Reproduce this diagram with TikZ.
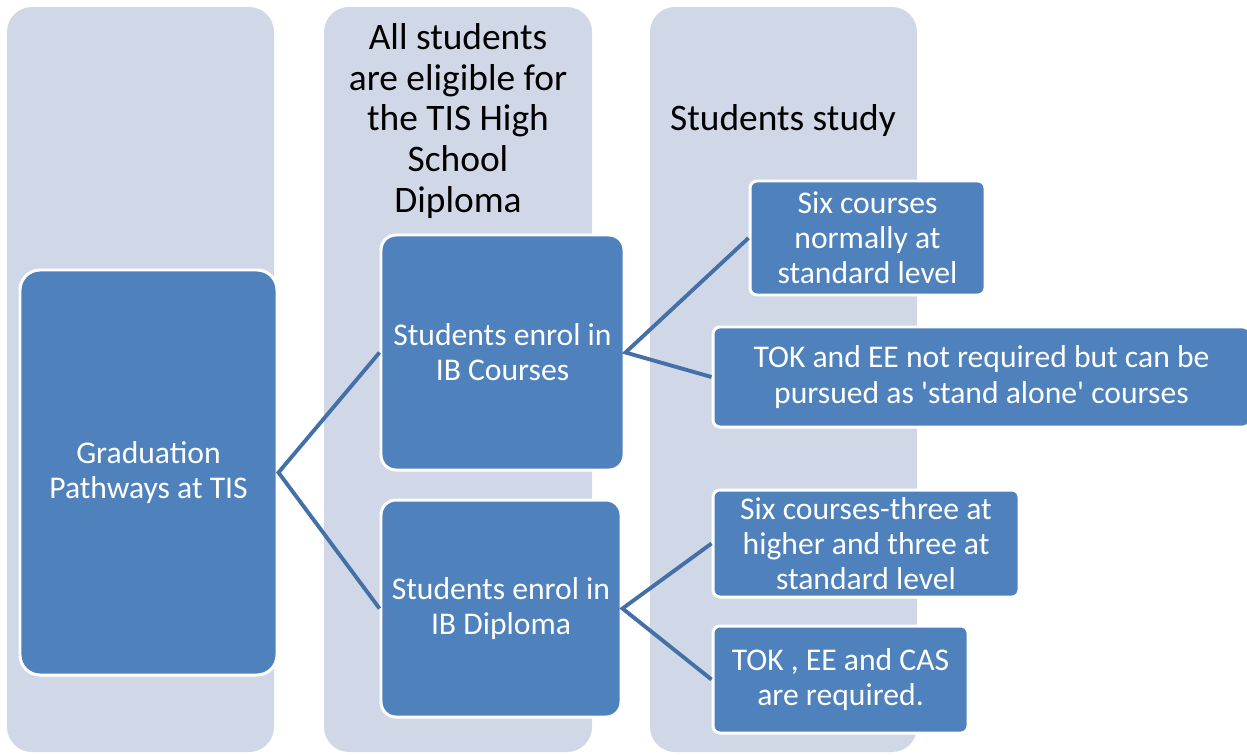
\documentclass[tikz,border=0pt]{standalone}
\usepackage{fontspec}
\setmainfont{Carlito}
\usetikzlibrary{fit}
\definecolor{colbg}{HTML}{D0D8E8}
\definecolor{boxblue}{HTML}{4F81BD}
\definecolor{linkblue}{HTML}{4470A8}

\begin{document}
\begin{tikzpicture}[x=0.02cm, y=-0.02cm,
    column/.style={fill=colbg, rounded corners=0.5cm, inner sep=0pt},
    header/.style={align=center, text=black, font=\fontsize{21.3}{23.3}\selectfont},
    pathbox/.style={fill=boxblue, draw=white, line width=1.7pt, rounded corners=0.3cm, inner sep=0pt},
    boxtext/.style={text=white, align=center, font=\fontsize{18}{20}\selectfont},
    smallbox/.style={pathbox, rounded corners=0.14cm},
    link/.style={draw=linkblue, line width=2.2pt}]
    \fill [white] (0,0) rectangle (1247,754);
    \useasboundingbox (0,0) rectangle (1247,754);

    % background columns
    \node (colA) [column, fit={(7,7) (274,752)}] {};
    \node (colB) [column, fit={(324,7) (592,752)}] {};
    \node (colC) [column, fit={(650,7) (917,752)}] {};
    \node (hdrElig) [header] at (458,121) {All students\\are eligible for\\the TIS High\\School\\Diploma};
    \node (hdrStudy) [header] at (783,121) {Students study};

    % boxes
    \node (grad) [pathbox, rounded corners=0.4cm, fit={(20,270) (277,675)},
        label={[boxtext]center:{Graduation\\Pathways at TIS}}] {};
    \node (ibc) [pathbox, fit={(381,235) (624,470)},
        label={[boxtext]center:{Students enrol in\\IB Courses}}] {};
    \node (ibd) [pathbox, fit={(381,500) (621,717)},
        label={[boxtext]center:{Students enrol in\\IB Diploma}}] {};
    \node (sixsl) [smallbox, fit={(750,181) (985,295)},
        label={[boxtext]center:{Six courses\\normally at\\standard level}}] {};
    \node (tokee) [smallbox, fit={(713,327) (1250,427)},
        label={[boxtext]center:{TOK and EE not required but can be\\pursued as \textquotesingle stand alone\textquotesingle{} courses}}] {};
    \node (sixhl) [smallbox, fit={(713,490) (1019,597)},
        label={[boxtext]center:{Six courses-three at\\higher and three at\\standard level}}] {};
    \node (tokcas) [smallbox, fit={(713,626) (968,733)},
        label={[boxtext]center:{TOK , EE and CAS\\are required.}}] {};

    % connectors
    \draw [link] (ibc.west) -- (grad.east) -- (ibd.west);
    \draw [link] (sixsl.west) -- (ibc.east) -- (tokee.west);
    \draw [link] (sixhl.west) -- (ibd.east) -- (tokcas.west);
\end{tikzpicture}
\end{document}
